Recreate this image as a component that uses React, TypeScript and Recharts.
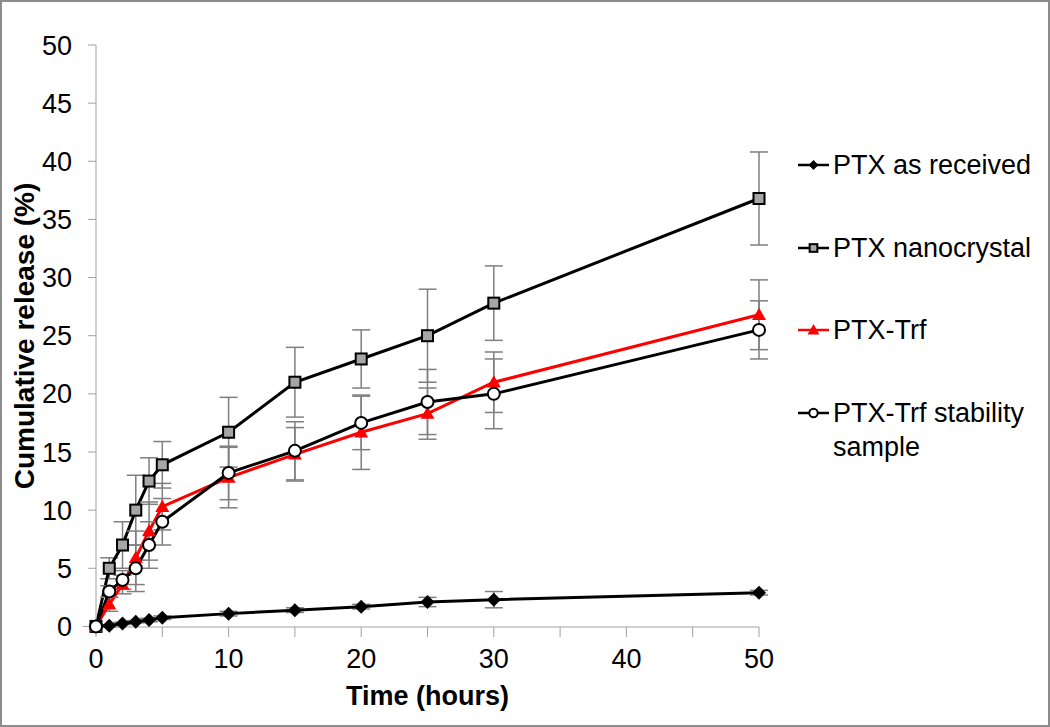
import React from 'react';
import { LineChart, Line, XAxis, YAxis, ErrorBar, Legend, ReferenceLine } from 'recharts';

const times = [0, 1, 2, 3, 4, 5, 10, 15, 20, 25, 30, 50];
const asReceived = [0, 0.05, 0.26, 0.4, 0.55, 0.75, 1.1, 1.4, 1.7, 2.1, 2.3, 2.9];
const asReceivedErr = [0, 0.1, 0.1, 0.1, 0.15, 0.15, 0.2, 0.2, 0.2, 0.4, 0.7, 0.2];
const nanocrystal = [0, 5, 7, 10, 12.5, 13.9, 16.7, 21, 23, 25, 27.8, 36.8];
const nanocrystalErr = [0, 0.9, 2, 3, 2, 2, 3, 3, 2.5, 4, 3.2, 4];
const trf = [0, 1.9, 3.6, 5.9, 8.2, 10.3, 12.8, 14.8, 16.7, 18.3, 21, 26.8];
const trfErr = [0, 0.6, 0.8, 2.3, 2.5, 2, 2.6, 2.3, 3.2, 2.2, 2.6, 3];
const stability = [0, 3, 4, 5, 7, 9, 13.2, 15.1, 17.5, 19.3, 20, 25.5];
const stabilityErr = [0, 0.5, 0.8, 2, 2, 2, 2.3, 2.5, 2.3, 2.8, 3, 2.5];

const xTicks = [0, 5, 10, 15, 20, 25, 30, 35, 40, 45, 50];
const yTicks = [0, 5, 10, 15, 20, 25, 30, 35, 40, 45, 50];

const data = times.map((t, i) => ({
  t,
  asReceived: asReceived[i],
  asReceivedErr: asReceivedErr[i],
  nanocrystal: nanocrystal[i],
  nanocrystalErr: nanocrystalErr[i],
  trf: trf[i],
  trfErr: trfErr[i],
  stability: stability[i],
  stabilityErr: stabilityErr[i],
}));

type Kind = 'diamond' | 'square' | 'triangle' | 'circle';

const series: { key: string; name: string[]; color: string; kind: Kind }[] = [
  { key: 'asReceived', name: ['PTX as received'], color: '#000', kind: 'diamond' },
  { key: 'nanocrystal', name: ['PTX nanocrystal'], color: '#000', kind: 'square' },
  { key: 'trf', name: ['PTX-Trf'], color: '#ff0000', kind: 'triangle' },
  { key: 'stability', name: ['PTX-Trf stability', 'sample'], color: '#000', kind: 'circle' },
];

const FONT = '"Liberation Sans", Arial, sans-serif';
const AXIS = '#a0a0a0';

function marker(kind: Kind, cx: number, cy: number, s: number, key?: string) {
  if (cx == null || cy == null) return <g key={key} />;
  if (kind === 'diamond') {
    const h = 7 * s;
    return <polygon key={key} points={`${cx},${cy - h} ${cx + h},${cy} ${cx},${cy + h} ${cx - h},${cy}`} fill="#000" />;
  }
  if (kind === 'square') {
    const h = 5.5 * s;
    return <rect key={key} x={cx - h} y={cy - h} width={2 * h} height={2 * h} fill="#a6a6a6" stroke="#000" strokeWidth={2} />;
  }
  if (kind === 'triangle') {
    const h = 7 * s;
    return <polygon key={key} points={`${cx},${cy - h} ${cx + h},${cy + h * 0.75} ${cx - h},${cy + h * 0.75}`} fill="#ff0000" />;
  }
  return <circle key={key} cx={cx} cy={cy} r={6 * s} fill="#fff" stroke="#000" strokeWidth={2} />;
}

const LegendBox = (props: any) => {
  const payload = props.payload || [];
  return (
    <div style={{ position: 'relative', fontFamily: FONT, fontSize: 27, color: '#000' }}>
      {payload.map((p: any, i: number) => {
        const def = series.find((s) => s.key === p.dataKey);
        if (!def) return null;
        return (
          <div key={def.key} style={{ position: 'absolute', left: 0, top: i * 82.7, display: 'flex', alignItems: 'flex-start', whiteSpace: 'nowrap' }}>
            <svg width={35} height={34} style={{ flex: 'none' }}>
              <line x1={0} x2={31} y1={17} y2={17} stroke={def.color} strokeWidth={2.5} />
              {marker(def.kind, 15.5, 17, def.kind === 'triangle' ? 0.85 : 0.7)}
            </svg>
            <div style={{ lineHeight: '34px' }}>
              {def.name.map((n) => (
                <div key={n}>{n}</div>
              ))}
            </div>
          </div>
        );
      })}
    </div>
  );
};

export default function App() {
  return (
    <div style={{ position: 'absolute', left: 0, top: 0, width: 1050, height: 727, background: '#fff' }}>
      <LineChart width={1050} height={727} data={data} margin={{ top: 45, right: 291, left: 0, bottom: 0 }}>
        <XAxis
          dataKey="t"
          type="number"
          domain={[0, 50]}
          ticks={xTicks}
          interval={0}
          tickFormatter={(v: number) => (v % 10 === 0 ? String(v) : '')}
          height={100}
          stroke={AXIS}
          tickSize={10}
          tickMargin={12}
          tick={{ fill: '#000', fontSize: 27, fontFamily: FONT }}
          label={{ value: 'Time (hours)', position: 'insideBottom', offset: 22, style: { fill: '#000', fontSize: 27, fontWeight: 'bold', fontFamily: FONT } }}
        />
        <YAxis
          type="number"
          domain={[0, 50]}
          ticks={yTicks}
          interval={0}
          width={96}
          stroke={AXIS}
          tickSize={8}
          tickMargin={16}
          tick={{ fill: '#000', fontSize: 27, fontFamily: FONT }}
          label={{ value: 'Cumulative release (%)', angle: -90, position: 'insideLeft', offset: 24, style: { textAnchor: 'middle', fill: '#000', fontSize: 28, fontWeight: 'bold', fontFamily: FONT } }}
        />
        <ReferenceLine segment={[{ x: -1, y: 0 }, { x: 0, y: 0 }]} stroke={AXIS} ifOverflow="visible" />
        <Legend layout="vertical" align="center" verticalAlign="middle" content={LegendBox} wrapperStyle={{ left: 798, top: 148, width: 250, height: 300 }} />
        {series.map((s) => (
          <Line
            key={s.key}
            dataKey={s.key}
            name={s.name.join(' ')}
            stroke={s.color}
            strokeWidth={3}
            type="linear"
            isAnimationActive={false}
            activeDot={false}
            dot={(p: any) => marker(s.kind, p.cx, p.cy, 1, `${s.key}-${p.index}`)}
          >
            <ErrorBar dataKey={`${s.key}Err`} width={9} stroke="#7f7f7f" strokeWidth={1.5} direction="y" />
          </Line>
        ))}
      </LineChart>
      <div style={{ position: 'absolute', left: 0, top: 0, width: 1050, height: 727, boxSizing: 'border-box', border: '2px solid #8c8c8c', pointerEvents: 'none' }} />
    </div>
  );
}
